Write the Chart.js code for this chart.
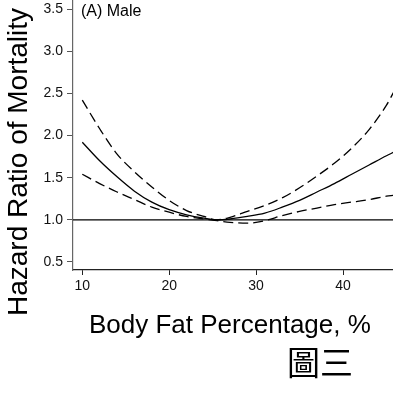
<!DOCTYPE html>
<html>
<head>
<meta charset="utf-8">
<script src="https://cdn.jsdelivr.net/npm/chart.js@4.4.1/dist/chart.umd.min.js"></script>
<style>
  html, body { margin: 0; padding: 0; background: #fff; }
  canvas { display: block; }
</style>
</head>
<body>
<canvas id="chart" width="393" height="393"></canvas>
<script>
// body fat % where the curves were read
const bodyFat = [10, 12, 14, 16, 18, 20, 22, 24, 25.5, 27, 29, 31, 33, 35, 37, 39, 41, 43, 45, 45.8];
// hazard ratio estimate and 95% CI bounds
const hazardRatio = [1.92, 1.70, 1.51, 1.34, 1.21, 1.12, 1.06, 1.02, 1.00, 1.01, 1.04, 1.08, 1.15, 1.23, 1.33, 1.43, 1.54, 1.65, 1.76, 1.80];
const upperCI = [2.42, 2.08, 1.78, 1.57, 1.39, 1.23, 1.11, 1.04, 1.00, 1.03, 1.10, 1.17, 1.26, 1.38, 1.52, 1.67, 1.85, 2.07, 2.36, 2.51];
const lowerCI = [1.54, 1.43, 1.33, 1.24, 1.15, 1.09, 1.04, 1.01, 0.99, 0.97, 0.96, 0.99, 1.05, 1.10, 1.14, 1.18, 1.21, 1.24, 1.28, 1.29];

const xTicks = [10, 20, 30, 40];
const yTicks = [0.5, 1.0, 1.5, 2.0, 2.5, 3.0, 3.5];
const refLevel = 1.0;
const X_MIN = 8.93, X_MAX = 45.75;
const Y_MIN = 0.405, Y_MAX = 3.607;

const FONT = "'Liberation Sans', Arial, Helvetica, sans-serif";

const toPoints = (ys) => bodyFat.map((x, i) => ({ x: x, y: ys[i] }));

// titles and panel label
const textPlugin = {
    id: "labels",
    afterDraw(chart) {
        const ctx = chart.ctx;
        ctx.save();
        ctx.fillStyle = "#000";

        ctx.font = "16px " + FONT;
        ctx.textAlign = "left";
        ctx.textBaseline = "alphabetic";
        ctx.fillText("(A) Male", 81, 16);

        ctx.font = "26px " + FONT;
        ctx.fillText("Body Fat Percentage, %", 89, 333);

        ctx.font = "33px 'Noto Sans CJK TC', 'Noto Sans CJK SC', sans-serif";
        ctx.textAlign = "center";
        ctx.textBaseline = "middle";
        ctx.fillText("圖三", 320, 362);

        ctx.translate(19, 162);
        ctx.rotate(-Math.PI / 2);
        ctx.font = "28px " + FONT;
        ctx.fillText("Hazard Ratio of Mortality", 0, 0);
        ctx.restore();
    },
};

const noPad = (s) => {
    s.paddingTop = 0;
    s.paddingBottom = 0;
    s.paddingLeft = 0;
    s.paddingRight = 0;
};

new Chart(document.getElementById("chart"), {
    type: "line",
    data: {
        datasets: [
            {
                label: "ref",
                data: [{ x: X_MIN, y: refLevel }, { x: X_MAX, y: refLevel }],
                borderColor: "#000",
                borderWidth: 1.3,
                pointRadius: 0,
            },
            {
                label: "HR",
                data: toPoints(hazardRatio),
                borderColor: "#000",
                borderWidth: 1.3,
                pointRadius: 0,
                cubicInterpolationMode: "monotone",
            },
            {
                label: "upper",
                data: toPoints(upperCI),
                borderColor: "#000",
                borderWidth: 1.3,
                borderDash: [10, 5],
                pointRadius: 0,
                cubicInterpolationMode: "monotone",
            },
            {
                label: "lower",
                data: toPoints(lowerCI),
                borderColor: "#000",
                borderWidth: 1.3,
                borderDash: [10, 5],
                pointRadius: 0,
                cubicInterpolationMode: "monotone",
            },
        ],
    },
    options: {
        responsive: false,
        animation: false,
        layout: { padding: 0 },
        plugins: {
            legend: { display: false },
            tooltip: { enabled: false },
        },
        scales: {
            x: {
                type: "linear",
                min: X_MIN,
                max: X_MAX,
                afterFit: (s) => { s.height = 123; noPad(s); },
                afterBuildTicks: (s) => { s.ticks = xTicks.map((v) => ({ value: v })); },
                grid: { drawOnChartArea: false, drawTicks: true, tickLength: 5, tickColor: "#222" },
                border: { color: "#222", width: 1.2 },
                ticks: {
                    color: "#111",
                    font: { family: FONT, size: 14 },
                    padding: 3,
                    maxRotation: 0,
                    callback: (v) => String(v),
                },
            },
            y: {
                type: "linear",
                min: Y_MIN,
                max: Y_MAX,
                afterFit: (s) => { s.width = 73; noPad(s); },
                afterBuildTicks: (s) => { s.ticks = yTicks.map((v) => ({ value: v })); },
                grid: { drawOnChartArea: false, drawTicks: true, tickLength: 6, tickColor: "#555" },
                border: { color: "#666", width: 1.2 },
                ticks: {
                    color: "#111",
                    font: { family: FONT, size: 14 },
                    padding: 4,
                    callback: (v) => v.toFixed(1),
                },
            },
        },
    },
    plugins: [textPlugin],
});
</script>
</body>
</html>
